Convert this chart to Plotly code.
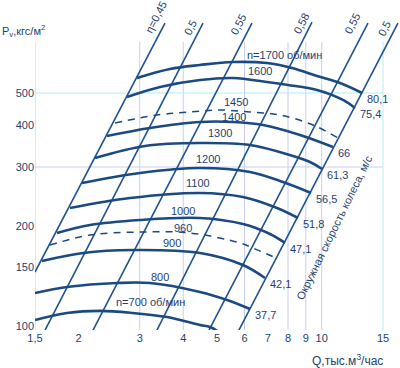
import math
import plotly.graph_objects as go

# ---------------- data ----------------
# constant-speed curves: Q (тыс. м3/час), Pv (кгс/м2)
q_1700 = [2.946, 3.664, 4.469, 5.560, 6.963, 8.215, 9.692, 11.29, 13.06]
p_1700 = [554.6, 590.1, 606.6, 619.3, 615.0, 594.2, 562.3, 535.8, 500.0]
q_1600 = [2.757, 3.430, 4.469, 5.560, 6.963, 8.000, 9.692, 11.51, 12.46]
p_1600 = [486.4, 521.2, 547.0, 554.6, 539.5, 528.5, 510.5, 476.5, 450.8]
q_1450 = [2.547, 3.362, 4.182, 5.101, 6.221, 7.586, 9.441, 11.14]
p_1450 = [406.5, 429.5, 438.5, 444.6, 438.5, 429.5, 400.9, 366.5]
q_1400 = [2.415, 3.211, 4.469, 5.560, 6.779, 8.661, 10.77]
p_1400 = [371.6, 392.7, 409.3, 409.3, 400.9, 374.2, 344.4]
q_1300 = [2.232, 3.106, 4.469, 6.221, 7.738, 9.253, 10.02]
p_1300 = [319.2, 346.9, 354.0, 349.2, 330.4, 310.5, 295.9]
q_1200 = [2.048, 3.005, 4.469, 6.221, 7.738, 9.316]
p_1200 = [268.7, 287.9, 297.9, 289.9, 270.5, 250.8]
q_1100 = [1.891, 2.812, 4.469, 5.939, 7.438, 8.550]
p_1100 = [226.1, 242.2, 250.8, 243.9, 226.1, 211.0]
q_1000 = [1.735, 2.159, 3.005, 4.469, 5.939, 7.102, 7.843]
p_1000 = [190.2, 201.0, 208.1, 211.0, 202.4, 188.9, 177.6]
q_960 = [1.656, 2.159, 3.005, 4.182, 5.823, 6.345, 7.389]
p_960 = [175.1, 187.6, 191.5, 190.2, 177.6, 171.5, 160.1]
q_900 = [1.571, 2.061, 2.869, 4.469, 5.939, 6.871]
p_900 = [156.8, 165.7, 169.2, 165.7, 152.5, 139.4]
q_800 = [1.500, 1.854, 2.581, 3.211, 4.469, 5.343, 6.221]
p_800 = [125.7, 131.0, 134.7, 134.7, 126.6, 119.8, 112.6]
q_700 = [1.500, 1.854, 2.306, 2.869, 3.593, 4.469, 4.775, 5.169]
p_700 = [104.3, 109.5, 111.1, 109.5, 106.5, 100.8, 99.4, 94.7]

speed_names = ["n=1700 об/мин", "1600", "1450", "1400", "1300", "1200",
               "1100", "1000", "960", "900", "800", "n=700 об/мин"]
dashed_speeds = ["1450", "960"]
# peripheral wheel speed (м/с) at the end of the solid curves
tip_speed = {"n=1700 об/мин": "80,1", "1600": "75,4", "1400": "66", "1300": "61,3",
             "1200": "56,5", "1100": "51,8", "1000": "47,1", "900": "42,1", "800": "37,7"}

# efficiency lines (top point, bottom point)
eta_labels = ["η=0,45", "0,5", "0,55", "0,58", "0,55", "0,5"]
eta_q_top = [3.545, 4.559, 6.303, 9.377, 13.58, 16.56]
eta_p_top = [810.5, 810.5, 810.5, 816.0, 810.5, 810.5]
eta_q_bot = [1.500, 1.582, 2.173, 3.318, 4.681, 5.706]
eta_p_bot = [145.3, 94.7, 94.7, 94.7, 94.7, 94.7]

# axes
q_ticks = [1.5, 2, 3, 4, 5, 6, 7, 8, 9, 10, 15]
q_ticktext = ["1,5", "2", "3", "4", "5", "6", "7", "8", "9", "10", "15"]
p_ticks = [100, 150, 200, 300, 400, 500]
p_ticktext = ["100", "150", "200", "300", "400", "500"]
grid_q = [1.5, 3, 4, 6, 8, 9, 10, 15]
grid_p = [300, 500]

# ---------------- layout geometry ----------------
W, H = 400, 368
PL, PR, PT, PB = 35, 400, 0, 330          # plot area in pixels
DEC_X, DEC_Y = 348.0, 333.6               # pixels per decade
X0 = math.log10(1.5)
xr = [X0, X0 + (PR - PL) / DEC_X]
Y300 = math.log10(300)
yr = [Y300 - (PB - 167) / DEC_Y, Y300 + (167 - PT) / DEC_Y]
grid_top_paper = (PB - 42) / (PB - PT)


def paper(px, py):
    return (px - PL) / (PR - PL), (PB - py) / (PB - PT)


CURVE = "#1b4a82"
LINE = "#1f5290"
TEXT = "#1e3f70"
FONT = "Liberation Sans, Arial, sans-serif"

fig = go.Figure()

# grid lines
for q in grid_q:
    col = "#b4eef6" if q == 15 else "#c9cdf2"
    fig.add_trace(go.Scatter(x=[q, q], y=[10 ** yr[0], 10 ** (yr[0] + grid_top_paper * (yr[1] - yr[0]))],
                             mode="lines", line=dict(color=col, width=1), hoverinfo="skip", showlegend=False))
for p in grid_p:
    col = "#aeeef4" if p == 500 else "#c9cdf2"
    fig.add_trace(go.Scatter(x=[1.5, 15], y=[p, p], mode="lines",
                             line=dict(color=col, width=1), hoverinfo="skip", showlegend=False))

# efficiency lines
for i in range(len(eta_labels)):
    fig.add_trace(go.Scatter(x=[eta_q_bot[i], eta_q_top[i]], y=[eta_p_bot[i], eta_p_top[i]],
                             mode="lines", line=dict(color=LINE, width=1.6),
                             hoverinfo="skip", showlegend=False))

curves = [(q_1700, p_1700), (q_1600, p_1600), (q_1450, p_1450), (q_1400, p_1400),
          (q_1300, p_1300), (q_1200, p_1200), (q_1100, p_1100), (q_1000, p_1000),
          (q_960, p_960), (q_900, p_900), (q_800, p_800), (q_700, p_700)]

for name, (qs, ps) in zip(speed_names, curves):
    dashed = name in dashed_speeds
    fig.add_trace(go.Scatter(
        x=qs, y=ps, mode="lines", name=name, showlegend=False,
        line=dict(color=CURVE, width=1.5 if dashed else 2.6, shape="spline", smoothing=1.0,
                  dash="7px,6px" if dashed else "solid")))

annotations = []
# speed labels near curves (pixel positions of the labels)
name_pos = {"n=1700 об/мин": (284, 55), "1600": (260, 71), "1450": (236, 102), "1400": (234, 117),
            "1300": (220, 133), "1200": (208, 159), "1100": (198, 183), "1000": (183, 211),
            "960": (183, 228), "900": (172, 243), "800": (160, 277), "n=700 об/мин": (150, 302)}
for name in speed_names:
    x, y = paper(*name_pos[name])
    annotations.append(dict(x=x, y=y, xref="paper", yref="paper", text=name, showarrow=False,
                            font=dict(family=FONT, size=11, color=TEXT), xanchor="center", yanchor="middle"))

# tip speed labels at curve ends
for name, (qs, ps) in zip(speed_names, curves):
    if name in tip_speed:
        annotations.append(dict(x=math.log10(qs[-1]), y=math.log10(ps[-1]), xref="x", yref="y",
                                text=tip_speed[name], showarrow=False, xanchor="left", yanchor="middle",
                                xshift=3, yshift=-6, font=dict(family=FONT, size=11, color=TEXT)))

# efficiency labels
eta_pos = [(156, 17), (190, 28), (238, 25), (301, 24), (352, 24), (384, 29)]
for lab, (px, py) in zip(eta_labels, eta_pos):
    x, y = paper(px, py)
    annotations.append(dict(x=x, y=y, xref="paper", yref="paper", text=lab, showarrow=False,
                            textangle=-63, xanchor="center", yanchor="middle",
                            font=dict(family=FONT, size=11, color=TEXT)))

# axis titles
x, y = paper(0, 31)
annotations.append(dict(x=x, y=y, xref="paper", yref="paper", text="P<sub>v</sub>,кгс/м<sup>2</sup>",
                        showarrow=False, xanchor="left", yanchor="middle",
                        font=dict(family=FONT, size=11, color=TEXT)))
x, y = paper(347, 360)
annotations.append(dict(x=x, y=y, xref="paper", yref="paper", text="Q,тыс.м<sup>3</sup>/час",
                        showarrow=False, xanchor="center", yanchor="middle",
                        font=dict(family=FONT, size=12, color=TEXT)))
x, y = paper(334, 228)
annotations.append(dict(x=x, y=y, xref="paper", yref="paper", text="Окружная скорость колеса, м/с",
                        showarrow=False, textangle=-64, xanchor="center", yanchor="middle",
                        font=dict(family=FONT, size=11, color=TEXT)))

fig.update_layout(
    width=W, height=H, margin=dict(l=PL, r=W - PR, t=PT, b=H - PB, pad=0, autoexpand=False),
    paper_bgcolor="white", plot_bgcolor="white", showlegend=False,
    annotations=annotations,
    xaxis=dict(type="log", range=xr, tickvals=q_ticks, ticktext=q_ticktext, showgrid=False,
               zeroline=False, showline=False, ticks="", fixedrange=True, automargin=False,
               tickfont=dict(family=FONT, size=11, color=TEXT)),
    yaxis=dict(type="log", range=yr, tickvals=p_ticks, ticktext=p_ticktext, showgrid=False,
               zeroline=False, showline=False, ticks="", fixedrange=True, automargin=False,
               tickfont=dict(family=FONT, size=11, color=TEXT)),
)

fig.write_html("out.html", config={"displayModeBar": False},
               post_script="document.body.style.margin='0';document.body.style.padding='0';"
                           "document.body.style.overflow='hidden';")
